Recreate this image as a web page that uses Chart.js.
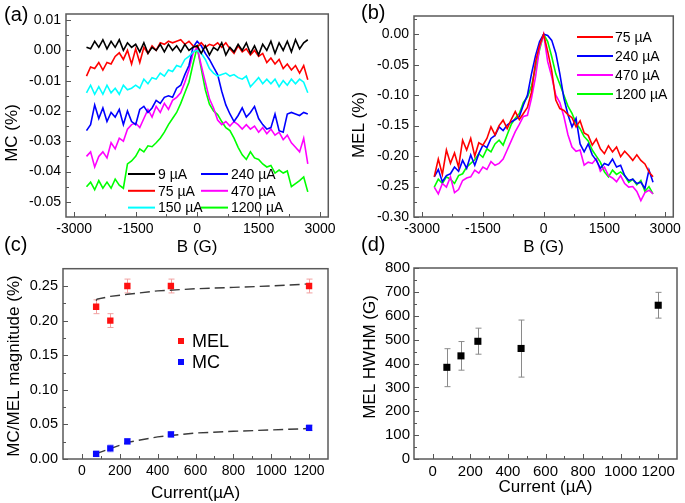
<!DOCTYPE html>
<html>
<head>
<meta charset="utf-8">
<script src="https://cdn.jsdelivr.net/npm/chart.js@4.4.1/dist/chart.umd.min.js"></script>
<style>
  body { margin: 0; width: 685px; height: 503px; background: #fff; position: relative; overflow: hidden;
         font-family: "Liberation Sans", Arial, sans-serif; }
  canvas { position: absolute; }
  .lbl { position: absolute; font-size: 20px; line-height: 20px; color: #000; }
</style>
</head>
<body>
<canvas id="ca" width="340" height="260" style="left:0;top:0"></canvas>
<canvas id="cb" width="340" height="260" style="left:345px;top:0"></canvas>
<canvas id="cc" width="340" height="248" style="left:0;top:255px"></canvas>
<canvas id="cd" width="340" height="248" style="left:345px;top:255px"></canvas>
<div class="lbl" style="left:4px;top:4px">(a)</div>
<div class="lbl" style="left:361px;top:2px">(b)</div>
<div class="lbl" style="left:4px;top:234px">(c)</div>
<div class="lbl" style="left:361px;top:234px">(d)</div>
<script>
// magnetic field (G), shared by (a) and (b)
const fieldG = [-2700, -2600, -2500, -2400, -2300, -2200, -2100, -2000, -1900, -1800,
  -1700, -1600, -1500, -1400, -1300, -1200, -1100, -1000, -900, -800,
  -700, -600, -500, -400, -300, -200, -100, 0, 100, 200,
  300, 400, 500, 600, 700, 800, 900, 1000, 1100, 1200,
  1300, 1400, 1500, 1600, 1700, 1800, 1900, 2000, 2100, 2200,
  2300, 2400, 2500, 2600, 2700];

// (a) MC (%)
const mc9 = [0.001, 0.0005, 0.003, 0.001, 0.0035, 0.0005, 0.003, 0.001, 0.0035, 0.0,
  0.0025, 0.001, 0.002, -0.0005, 0.0025, -0.001, 0.001, 0.0, 0.002, -0.0005,
  0.002, 0.0, 0.0015, -0.0005, 0.002, 0.0, 0.001, 0.0015, -0.001, 0.0015,
  -0.0015, 0.001, 0.0, 0.0025, -0.0015, 0.001, -0.0005, 0.002, 0.0, 0.0025,
  -0.001, 0.0015, -0.0015, 0.002, 0.0, 0.003, -0.001, 0.0025, 0.0, 0.003,
  -0.0005, 0.0035, 0.0005, 0.0025, 0.0035];
const mc75 = [-0.0085, -0.0055, -0.006, -0.004, -0.0065, -0.004, -0.0045, -0.002, -0.0008, -0.003,
  0.0, -0.0045, 0.0005, -0.004, 0.001, -0.001, 0.0015, 0.0, 0.0025, 0.002,
  0.003, 0.0025, 0.003, 0.0035, 0.002, 0.003, 0.0015, 0.001, 0.0025, 0.001,
  0.002, 0.0015, 0.0025, 0.001, 0.0025, 0.0005, -0.001, 0.0015, -0.0005, 0.0005,
  -0.0015, 0.0, -0.002, -0.001, -0.004, -0.0025, -0.0045, -0.003, -0.006, -0.0045,
  -0.0065, -0.005, -0.0075, -0.005, -0.0097];
const mc150 = [-0.014, -0.0115, -0.0145, -0.012, -0.0145, -0.0115, -0.014, -0.0125, -0.0145, -0.0115,
  -0.013, -0.0125, -0.0115, -0.0125, -0.0095, -0.011, -0.009, -0.0095, -0.0075, -0.0085,
  -0.0065, -0.007, -0.005, -0.0055, -0.003, -0.002, -0.0005, 0.0, -0.001, -0.003,
  -0.006, -0.0075, -0.0085, -0.008, -0.0075, -0.0085, -0.008, -0.009, -0.0095, -0.0085,
  -0.012, -0.0105, -0.009, -0.011, -0.0095, -0.011, -0.0095, -0.012, -0.01, -0.0115,
  -0.0095, -0.011, -0.0095, -0.0105, -0.014];
const mc240 = [-0.0265, -0.0245, -0.018, -0.0225, -0.019, -0.0235, -0.0205, -0.022, -0.0195, -0.0245,
  -0.02, -0.0235, -0.0245, -0.0195, -0.0185, -0.0205, -0.019, -0.0165, -0.0175, -0.0155,
  -0.015, -0.0155, -0.0125, -0.0115, -0.008, -0.005, 0.001, 0.003, 0.0015, -0.001,
  -0.003, -0.0055, -0.008, -0.0135, -0.018, -0.021, -0.0235, -0.0215, -0.019, -0.022,
  -0.0205, -0.0185, -0.0225, -0.0245, -0.026, -0.0255, -0.021, -0.0265, -0.027, -0.021,
  -0.0205, -0.021, -0.0215, -0.0205, -0.021];
const mc470 = [-0.035, -0.0335, -0.0385, -0.035, -0.0335, -0.0355, -0.0305, -0.0325, -0.029, -0.03,
  -0.026, -0.0245, -0.024, -0.0255, -0.0225, -0.0195, -0.022, -0.0185, -0.0205, -0.0175,
  -0.0195, -0.0165, -0.0155, -0.014, -0.0105, -0.0065, -0.001, 0.001, -0.005, -0.0105,
  -0.016, -0.019, -0.023, -0.0245, -0.0235, -0.025, -0.0235, -0.0245, -0.026, -0.0245,
  -0.026, -0.025, -0.027, -0.0255, -0.0275, -0.026, -0.028, -0.027, -0.0295, -0.028,
  -0.0305, -0.032, -0.0335, -0.029, -0.0375];
const mc1200 = [-0.045, -0.0435, -0.046, -0.043, -0.0455, -0.0435, -0.0455, -0.0425, -0.0445, -0.0455,
  -0.0375, -0.0365, -0.035, -0.0325, -0.0335, -0.0315, -0.0318, -0.0305, -0.029, -0.027,
  -0.0245, -0.0225, -0.0205, -0.0175, -0.014, -0.0105, -0.0045, 0.001, -0.006, -0.013,
  -0.0178, -0.02, -0.0212, -0.0235, -0.0255, -0.0265, -0.029, -0.032, -0.0345, -0.036,
  -0.0335, -0.0355, -0.036, -0.0375, -0.0385, -0.038, -0.0405, -0.0395, -0.0405, -0.0398,
  -0.045, -0.044, -0.043, -0.0418, -0.0467];

// (b) MEL (%)
const mel75 = [-0.234, -0.205, -0.23, -0.19, -0.212, -0.195, -0.218, -0.174, -0.19, -0.171,
  -0.2, -0.178, -0.182, -0.171, -0.152, -0.165, -0.15, -0.141, -0.155, -0.14,
  -0.127, -0.14, -0.13, -0.12, -0.095, -0.045, -0.018, 0.0, -0.028, -0.06,
  -0.108, -0.122, -0.125, -0.132, -0.137, -0.152, -0.142, -0.162, -0.166, -0.182,
  -0.172, -0.188, -0.196, -0.183, -0.193, -0.185, -0.201, -0.192, -0.199, -0.207,
  -0.198, -0.207, -0.213, -0.226, -0.234];
const mel240 = [-0.234, -0.222, -0.242, -0.232, -0.229, -0.218, -0.225, -0.207, -0.22, -0.198,
  -0.215, -0.196, -0.182, -0.186, -0.171, -0.166, -0.152, -0.158, -0.149, -0.144,
  -0.14, -0.135, -0.116, -0.1, -0.065, -0.035, -0.012, 0.0, -0.002, -0.01,
  -0.031, -0.065, -0.105, -0.132, -0.152, -0.138, -0.18, -0.193, -0.18, -0.198,
  -0.207, -0.22, -0.212, -0.215, -0.205, -0.218, -0.215, -0.232, -0.24, -0.238,
  -0.245, -0.243, -0.253, -0.223, -0.243];
const mel470 = [-0.251, -0.262, -0.245, -0.251, -0.234, -0.26, -0.255, -0.24, -0.236, -0.234,
  -0.223, -0.228, -0.218, -0.222, -0.209, -0.215, -0.212, -0.205, -0.19, -0.175,
  -0.16, -0.148, -0.135, -0.133, -0.105, -0.07, -0.022, 0.0, -0.045, -0.07,
  -0.1, -0.112, -0.135, -0.165, -0.185, -0.192, -0.19, -0.215, -0.21, -0.212,
  -0.204, -0.225, -0.218, -0.232, -0.236, -0.242, -0.232, -0.245, -0.251, -0.25,
  -0.258, -0.273, -0.26, -0.256, -0.262];
const mel1200 = [-0.251, -0.238, -0.245, -0.234, -0.238, -0.245, -0.232, -0.229, -0.218, -0.212,
  -0.206, -0.196, -0.202, -0.188, -0.193, -0.18, -0.174, -0.182, -0.165, -0.148,
  -0.138, -0.13, -0.112, -0.103, -0.085, -0.055, -0.025, 0.0, -0.012, -0.037,
  -0.065, -0.082, -0.1, -0.118, -0.13, -0.146, -0.155, -0.168, -0.175, -0.19,
  -0.2, -0.21, -0.226, -0.234, -0.223, -0.23, -0.226, -0.232, -0.243, -0.238,
  -0.247, -0.24, -0.258, -0.25, -0.262];

// (c) magnitudes vs current
const currentUA = [75, 150, 240, 470, 1200];
const melMag = [0.22, 0.20, 0.25, 0.25, 0.25];
const melMagErr = [0.01, 0.01, 0.01, 0.01, 0.01];
const mcMag = [0.0074, 0.0153, 0.0255, 0.0355, 0.045];
const mcMagErr = [0.004, 0.005, 0.004, 0.004, 0.004];
const fitCurrent = [75, 80, 150, 240, 400, 600, 800, 1000, 1200];
const melFit = [0.229, 0.231, 0.235, 0.238, 0.243, 0.246, 0.248, 0.250, 0.253];
const mcFit = [0.007, 0.008, 0.015, 0.024, 0.032, 0.0375, 0.040, 0.042, 0.044];

// (d) HWHM vs current
const hwhm = [384, 432, 493, 463, 644];
const hwhmLow = [303, 372, 439, 343, 590];
const hwhmHigh = [462, 492, 548, 582, 698];

// tick labels
const fieldTicks = [-3000, -1500, 0, 1500, 3000];
const mcTicks = [0.01, 0.00, -0.01, -0.02, -0.03, -0.04, -0.05];
const melTicks = [0.00, -0.05, -0.10, -0.15, -0.20, -0.25, -0.30];
const currentTicks = [0, 200, 400, 600, 800, 1000, 1200];
const magTicks = [0.00, 0.05, 0.10, 0.15, 0.20, 0.25];
const hwhmTicks = [0, 100, 200, 300, 400, 500, 600, 700, 800];

const FONT = '"Liberation Sans", Arial, sans-serif';
Chart.defaults.font.family = FONT;
Chart.defaults.color = '#000';

function minors(min, max, step, majors) {
  const out = [];
  for (let k = Math.ceil(min / step); k * step < max; k++) {
    const v = k * step;
    if (v <= min + step * 1e-3 || v >= max - step * 1e-3) continue;
    if (!majors.some(m => Math.abs(m - v) < step * 1e-3)) out.push(v);
  }
  return out;
}

const deco = {
  id: 'deco',
  beforeDatasetsDraw(chart) {
    const { ctx, scales: { x: xs, y: ys } } = chart;
    chart.data.datasets.forEach(ds => {
      if (!ds.errLo) return;
      ctx.save();
      ctx.strokeStyle = ds.errColor;
      ctx.lineWidth = 1;
      ctx.beginPath();
      ds.data.forEach((p, i) => {
        const x = Math.round(xs.getPixelForValue(p.x)) + 0.5;
        const y1 = ys.getPixelForValue(ds.errLo[i]);
        const y2 = ys.getPixelForValue(ds.errHi[i]);
        ctx.moveTo(x, y1); ctx.lineTo(x, y2);
        ctx.moveTo(x - 3, y1); ctx.lineTo(x + 3, y1);
        ctx.moveTo(x - 3, y2); ctx.lineTo(x + 3, y2);
      });
      ctx.stroke();
      ctx.restore();
    });
  },
  afterDraw(chart, args, o) {
    const { ctx, chartArea: a, scales: { x: xs, y: ys } } = chart;
    ctx.save();
    // inward ticks on bottom and left
    const xMaj = xs.ticks.map(t => t.value), yMaj = ys.ticks.map(t => t.value);
    ctx.strokeStyle = '#555';
    ctx.lineWidth = 1;
    ctx.beginPath();
    const tx = (v, len) => { const p = Math.round(xs.getPixelForValue(v)) + 0.5; ctx.moveTo(p, a.bottom); ctx.lineTo(p, a.bottom - len); };
    const ty = (v, len) => { const p = Math.round(ys.getPixelForValue(v)) + 0.5; ctx.moveTo(a.left, p); ctx.lineTo(a.left + len, p); };
    xMaj.forEach(v => tx(v, 5));
    minors(xs.min, xs.max, o.xMinor, xMaj).forEach(v => tx(v, 3));
    yMaj.forEach(v => ty(v, 5));
    minors(ys.min, ys.max, o.yMinor, yMaj).forEach(v => ty(v, 3));
    ctx.stroke();
    // frame
    ctx.lineWidth = 1.5;
    ctx.strokeStyle = '#5a5a5a';
    ctx.strokeRect(a.left, a.top, a.right - a.left, a.bottom - a.top);
    // axis titles
    ctx.fillStyle = '#000';
    ctx.font = '17px ' + FONT;
    ctx.textAlign = 'center';
    ctx.textBaseline = 'middle';
    ctx.fillText(o.xTitle, (a.left + a.right) / 2, o.xTitleY);
    ctx.save();
    ctx.translate(o.yTitleX, o.yTitleY);
    ctx.rotate(-Math.PI / 2);
    ctx.fillText(o.yTitle, 0, 0);
    ctx.restore();
    // legend
    const L = o.legend;
    ctx.font = L.size + 'px ' + FONT;
    ctx.textAlign = 'left';
    chart.data.datasets.filter(ds => !ds.noLegend).forEach((ds, i) => {
      const col = Math.floor(i / L.rows), row = i % L.rows;
      const lx = L.x + col * L.colW, ly = L.y + row * L.rowH;
      if (L.marker) {
        ctx.fillStyle = ds.backgroundColor;
        ctx.fillRect(lx - 3, ly - 3, 6, 6);
      } else {
        ctx.strokeStyle = ds.borderColor;
        ctx.lineWidth = 2;
        ctx.beginPath(); ctx.moveTo(lx, ly); ctx.lineTo(lx + L.lineLen, ly); ctx.stroke();
      }
      ctx.fillStyle = '#000';
      ctx.fillText(ds.label, lx + L.textDx, ly + 1);
    });
    ctx.restore();
  }
};

function axis(min, max, ticks, fmt, size, pad, fontSize) {
  return {
    type: 'linear', min: min, max: max,
    grid: { display: false, drawTicks: false },
    border: { display: false },
    afterBuildTicks: s => { s.ticks = ticks.map(v => ({ value: v })); },
    afterFit: s => { if (s.isHorizontal()) s.height = size; else s.width = size; },
    ticks: { autoSkip: false, maxRotation: 0, padding: pad, color: '#000',
             font: { size: fontSize }, callback: fmt }
  };
}

function lineSet(label, ys, color) {
  return { label: label, data: fieldG.map((b, i) => ({ x: b, y: ys[i] })),
           borderColor: color, backgroundColor: color, borderWidth: 1.6,
           pointRadius: 0, showLine: true, tension: 0 };
}

function makeChart(id, datasets, scales, pad, deco0) {
  return new Chart(document.getElementById(id), {
    type: 'scatter',
    data: { datasets: datasets },
    options: {
      responsive: false, animation: false, events: [],
      layout: { padding: pad },
      scales: scales,
      plugins: { legend: { display: false }, tooltip: { enabled: false }, deco: deco0 }
    },
    plugins: [deco]
  });
}

const f2 = v => v.toFixed(2);
const f0 = v => String(v);

// (a)
makeChart('ca', [
  lineSet('9 \u00b5A', mc9, '#000000'),
  lineSet('75 \u00b5A', mc75, '#ff0000'),
  lineSet('150 \u00b5A', mc150, '#00ffff'),
  lineSet('240 \u00b5A', mc240, '#0000ff'),
  lineSet('470 \u00b5A', mc470, '#ff00ff'),
  lineSet('1200 \u00b5A', mc1200, '#00ff00')
], {
  x: axis(-3200, 3200, fieldTicks, f0, 43, 4, 14),
  y: axis(-0.055, 0.012, mcTicks, f2, 66, 5, 14)
}, { top: 14, right: 11, left: 0, bottom: 0 }, {
  xMinor: 750, yMinor: 0.005, xTitle: 'B (G)', xTitleY: 247,
  yTitle: 'MC (%)', yTitleX: 12, yTitleY: 133,
  legend: { x: 128, y: 174, rowH: 16.8, colW: 73, rows: 3, lineLen: 27, textDx: 30, size: 14 }
});

// (b)
makeChart('cb', [
  lineSet('75 \u00b5A', mel75, '#ff0000'),
  lineSet('240 \u00b5A', mel240, '#0000ff'),
  lineSet('470 \u00b5A', mel470, '#ff00ff'),
  lineSet('1200 \u00b5A', mel1200, '#00ff00')
], {
  x: axis(-3200, 3200, fieldTicks, f0, 43, 4, 14),
  y: axis(-0.30, 0.03, melTicks, f2, 69, 5, 14)
}, { top: 16, right: 8, left: 0, bottom: 0 }, {
  xMinor: 750, yMinor: 0.025, xTitle: 'B (G)', xTitleY: 247,
  yTitle: 'MEL (%)', yTitleX: 14, yTitleY: 125,
  legend: { x: 232, y: 37, rowH: 19, colW: 0, rows: 4, lineLen: 36, textDx: 38, size: 14 }
});

// (c)
makeChart('cc', [
  { label: 'MEL', data: currentUA.map((c, i) => ({ x: c, y: melMag[i] })),
    errLo: melMag.map((v, i) => v - melMagErr[i]), errHi: melMag.map((v, i) => v + melMagErr[i]),
    errColor: '#f2a0a0', backgroundColor: '#ff1010', borderColor: '#ff1010',
    pointStyle: 'rect', pointRadius: 4.5, borderWidth: 0 },
  { label: 'MC', data: currentUA.map((c, i) => ({ x: c, y: mcMag[i] })),
    errLo: mcMag.map((v, i) => v - mcMagErr[i]), errHi: mcMag.map((v, i) => v + mcMagErr[i]),
    errColor: '#a8a8ff', backgroundColor: '#0a0aff', borderColor: '#0a0aff',
    pointStyle: 'rect', pointRadius: 4.5, borderWidth: 0 },
  { label: 'MEL fit', noLegend: true, data: fitCurrent.map((c, i) => ({ x: c, y: melFit[i] })),
    showLine: true, pointRadius: 0, borderColor: '#3a3a3a', borderWidth: 1.4, borderDash: [10, 5] },
  { label: 'MC fit', noLegend: true, data: fitCurrent.map((c, i) => ({ x: c, y: mcFit[i] })),
    showLine: true, pointRadius: 0, borderColor: '#3a3a3a', borderWidth: 1.4, borderDash: [10, 5] }
], {
  x: axis(-100, 1300, currentTicks, f0, 44, 4, 14),
  y: axis(0, 0.275, magTicks, f2, 63, 5, 14.5)
}, { top: 7, right: 12, left: 0, bottom: 0 }, {
  xMinor: 100, yMinor: 0.025, xTitle: 'Current(\u00b5A)', xTitleY: 238,
  yTitle: 'MC/MEL magnitude (%)', yTitleX: 14, yTitleY: 111,
  legend: { x: 181, y: 86, rowH: 21, colW: 0, rows: 2, marker: true, textDx: 11, size: 18 }
});

// (d)
makeChart('cd', [
  { label: 'HWHM', noLegend: true, data: currentUA.map((c, i) => ({ x: c, y: hwhm[i] })),
    errLo: hwhmLow, errHi: hwhmHigh, errColor: '#8a8a8a',
    backgroundColor: '#000', borderColor: '#000', pointStyle: 'rect', pointRadius: 5, borderWidth: 0 }
], {
  x: axis(-100, 1300, currentTicks, f0, 44, 4, 15),
  y: axis(0, 800, hwhmTicks, f0, 69, 4, 15)
}, { top: 7, right: 8, left: 0, bottom: 0 }, {
  xMinor: 100, yMinor: 50, xTitle: 'Current (\u00b5A)', xTitleY: 232,
  yTitle: 'MEL HWHM (G)', yTitleX: 25, yTitleY: 102,
  legend: { x: 0, y: 0, rowH: 0, colW: 0, rows: 1, lineLen: 0, textDx: 0, size: 13 }
});
</script>
</body>
</html>
